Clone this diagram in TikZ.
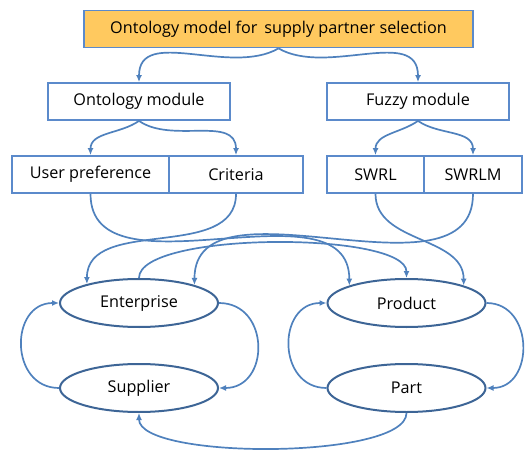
\documentclass[tikz,border=0pt]{standalone}
\usepackage{fontspec}
\setmainfont{Open Sans}
\usetikzlibrary{shapes.geometric,arrows.meta}

\definecolor{boxline}{HTML}{5B8ACB}
\definecolor{ovalline}{HTML}{3D6596}
\definecolor{arrowline}{HTML}{4F81BD}
\definecolor{headfill}{HTML}{FFC95F}

\tikzset{
  box/.style={draw=boxline,line width=1.8pt,minimum height=37pt,inner sep=0pt,font=\fontsize{16.2}{19}\selectfont},
  oval/.style={ellipse,draw=ovalline,line width=2pt,minimum width=158pt,minimum height=48pt,inner sep=0pt,font=\fontsize{16.2}{19}\selectfont},
  link/.style={-{Latex[length=7pt,width=6pt]},arrowline,line width=1.7pt}
}

\begin{document}
\begin{tikzpicture}[x=1pt,y=1pt]
        \useasboundingbox (0,0) rectangle (529,450);
        % modules
        \node[box,fill=headfill,minimum width=389pt] (model) at (278.5,421) {Ontology model for\, supply partner selection};
        \node[box,minimum width=182pt] (onto) at (139,348.5) {Ontology module};
        \node[box,minimum width=182pt] (fuzzy) at (418,348.5) {Fuzzy module};
        \node[box,minimum width=157pt] (pref) at (90.5,275.5) {User preference};
        \node[box,minimum width=134pt] (crit) at (236,275.5) {Criteria};
        \node[box,minimum width=97pt] (swrl) at (375.5,275.5) {SWRL};
        \node[box,minimum width=98pt] (swrlm) at (473,275.5) {SWRLM};
        % classes
        \node[oval] (ent) at (139,147) {Enterprise};
        \node[oval] (sup) at (139,62) {Supplier};
        \node[oval] (prod) at (406.5,147) {Product};
        \node[oval] (part) at (406.5,62) {Part};
        % tree
        \draw[link] (model.south) to[out=-150,in=90] (onto.north);
        \draw[link] (model.south) to[out=-30,in=90] (fuzzy.north);
        \draw[link] (onto.south) to[out=-145,in=90] (pref.north);
        \draw[link] (onto.south) to[out=-35,in=90] (crit.north);
        \draw[link] (fuzzy.south) to[out=-145,in=90] (swrl.north);
        \draw[link] (fuzzy.south) to[out=-35,in=90] (swrlm.north);
        % rules into the classes
        \draw[link] (pref.south) to[out=-90,in=90] (prod.163);
        \draw[link] (crit.south) to[out=-90,in=90] (ent.160);
        \draw[link] (swrl.south) to[out=-90,in=90] (prod.17);
        \draw[link] (swrlm.south) to[out=-90,in=90] (ent.18);
        \draw[link] (ent.north) to[out=90,in=90,looseness=0.45] (prod.north);
        % loops between classes
        \draw[link] (ent.east) to[out=0,in=0,looseness=1.55] (sup.east);
        \draw[link] (sup.west) to[out=180,in=180,looseness=1.5] (ent.west);
        \draw[link] (prod.east) to[out=0,in=0,looseness=1.45] (part.east);
        \draw[link] (part.west) to[out=180,in=180,looseness=1.5] (prod.west);
        \draw[link] (part.south) to[out=-90,in=-90,looseness=0.45] (sup.south);
    \end{tikzpicture}
\end{document}
